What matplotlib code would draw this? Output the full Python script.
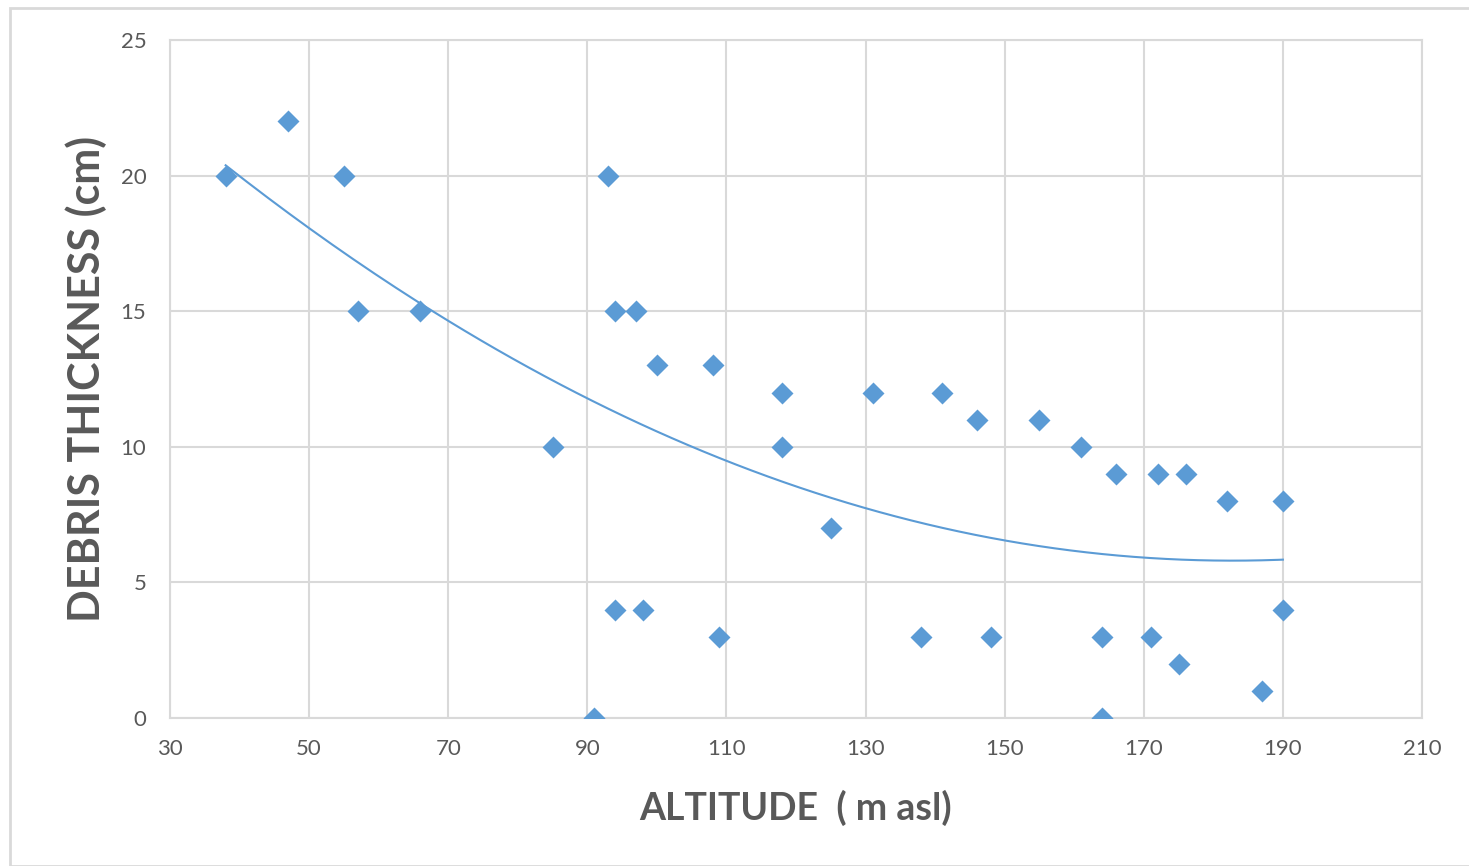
import numpy as np
import matplotlib.pyplot as plt
from matplotlib.patches import Rectangle

altitude = [38, 47, 55, 57, 66, 85, 91, 93, 94, 94, 97, 98, 100, 108, 109,
            118, 118, 125, 131, 138, 141, 146, 148, 155, 161, 164, 164, 166,
            171, 172, 175, 176, 182, 187, 190, 190]
thickness = [20, 22, 20, 15, 15, 10, 0, 20, 15, 4, 15, 4, 13, 13, 3,
             12, 10, 7, 12, 3, 12, 11, 3, 11, 10, 3, 0, 9,
             3, 9, 2, 9, 8, 1, 8, 4]

x_ticks = list(range(30, 211, 20))
y_ticks = list(range(0, 26, 5))

blue = '#5B9BD5'
grey = '#D9D9D9'
txt = '#595959'

fig = plt.figure(figsize=(14.69, 8.66), dpi=100)
ax = fig.add_axes([170 / 1469, 1 - 718 / 866, 1252 / 1469, 678 / 866])

# outer chart border
fig.patches.append(Rectangle((10 / 1469, 0), 1.0, 1 - 8 / 866, transform=fig.transFigure,
                             fill=False, ec=grey, lw=2))

# 2nd order polynomial trendline, like excel
coef = np.polyfit(altitude, thickness, 2)
xs = np.linspace(min(altitude), max(altitude), 200)
ax.plot(xs, np.polyval(coef, xs), color=blue, lw=1.5, zorder=2)

ax.plot(altitude, thickness, 'D', color=blue, markersize=11, mec='none', zorder=3)

ax.set_xlim(30, 210)
ax.set_ylim(0, 25)
ax.set_xticks(x_ticks)
ax.set_yticks(y_ticks)
ax.grid(True, color=grey, lw=1.5)
ax.set_axisbelow(True)
for s in ax.spines.values():
    s.set_color(grey)
    s.set_linewidth(1.5)
ax.tick_params(length=0, labelsize=16, labelcolor=txt)
ax.tick_params(axis='x', pad=15)
ax.tick_params(axis='y', pad=17)
for lab in ax.get_xticklabels() + ax.get_yticklabels():
    lab.set_family('Lato')

ax.set_xlabel('ALTITUDE  ( m asl)', fontsize=27, fontweight='bold', color=txt,
              family='Lato', labelpad=22)
ax.set_ylabel('DEBRIS THICKNESS (cm)', fontsize=31, fontweight='bold', color=txt,
              family='Lato', labelpad=10)

plt.savefig('out.png', dpi=100)
plt.close()
